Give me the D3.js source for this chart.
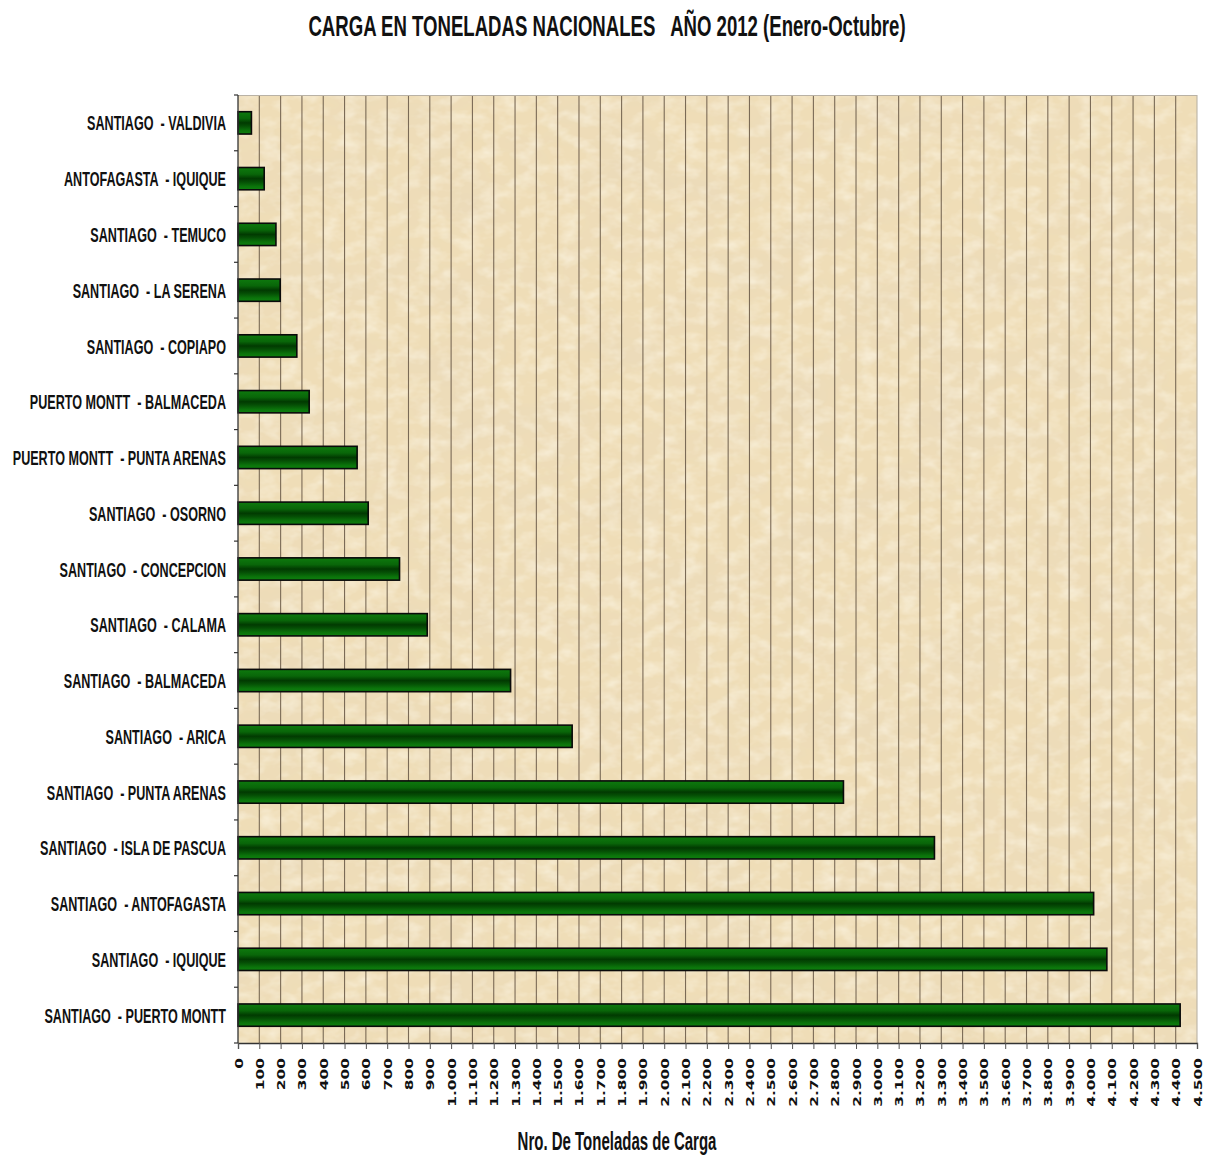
<!DOCTYPE html>
<html><head><meta charset="utf-8">
<script src="https://cdn.jsdelivr.net/npm/d3@7"></script>
<style>
html,body{margin:0;padding:0;background:#fff;}
svg{display:block;}
text{font-family:"Liberation Sans",Arial,sans-serif;font-weight:bold;fill:#111;}
</style></head>
<body>
<svg id="chart" width="1212" height="1161"></svg>
<script>
const categories = [
  "SANTIAGO  - VALDIVIA",
  "ANTOFAGASTA  - IQUIQUE",
  "SANTIAGO  - TEMUCO",
  "SANTIAGO  - LA SERENA",
  "SANTIAGO  - COPIAPO",
  "PUERTO MONTT  - BALMACEDA",
  "PUERTO MONTT  - PUNTA ARENAS",
  "SANTIAGO  - OSORNO",
  "SANTIAGO  - CONCEPCION",
  "SANTIAGO  - CALAMA",
  "SANTIAGO  - BALMACEDA",
  "SANTIAGO  - ARICA",
  "SANTIAGO  - PUNTA ARENAS",
  "SANTIAGO  - ISLA DE PASCUA",
  "SANTIAGO  - ANTOFAGASTA",
  "SANTIAGO  - IQUIQUE",
  "SANTIAGO  - PUERTO MONTT"
];
const toneladas = [63, 123, 178, 198, 276, 334, 559, 611, 758, 888, 1279, 1568, 2841, 3268, 4015, 4077, 4421];
const xTicks = d3.range(0, 4501, 100);
const titleText = "CARGA EN TONELADAS NACIONALES   AÑO 2012 (Enero-Octubre)";
const xAxisTitle = "Nro. De Toneladas de Carga";

const svg = d3.select("#chart");
const L = 238, R = 1197, T = 95, B = 1043;
const SX = 0.6;

const x = d3.scaleLinear().domain([0, 4500]).range([L, R]);
const y = d3.scaleBand().domain(categories).range([T, B]).paddingInner(0.6).paddingOuter(0.3);
const fmt = d3.formatLocale({decimal: ",", thousands: ".", grouping: [3], currency: ["", ""]}).format(",d");

const defs = svg.append("defs");
const f = defs.append("filter").attr("id", "paper").attr("x", 0).attr("y", 0).attr("width", 1).attr("height", 1);
f.append("feTurbulence").attr("type", "fractalNoise").attr("baseFrequency", "0.012 0.02").attr("numOctaves", 4).attr("seed", 7).attr("result", "n");
f.append("feColorMatrix").attr("in", "n").attr("type", "matrix")
  .attr("values", "0 0 0 0 0.82  0 0 0 0 0.70  0 0 0 0 0.50  1.4 0 0 0 -0.55");
const f2 = defs.append("filter").attr("id", "paper2").attr("x", 0).attr("y", 0).attr("width", 1).attr("height", 1);
f2.append("feTurbulence").attr("type", "fractalNoise").attr("baseFrequency", "0.05 0.08").attr("numOctaves", 3).attr("seed", 2).attr("result", "n");
f2.append("feColorMatrix").attr("in", "n").attr("type", "matrix")
  .attr("values", "0 0 0 0 0.98  0 0 0 0 0.93  0 0 0 0 0.80  1.2 0 0 0 -0.5");

const grad = defs.append("linearGradient").attr("id", "barGrad").attr("x1", 0).attr("y1", 0).attr("x2", 0).attr("y2", 1);
[[0, "#0e7a0e"], [0.3, "#096609"], [0.5, "#013a01"], [0.65, "#054f05"], [0.85, "#0b740b"], [1, "#0f7f0f"]]
  .forEach(([o, c]) => grad.append("stop").attr("offset", o).attr("stop-color", c));

// background
svg.append("rect").attr("x", L).attr("y", T).attr("width", R - L).attr("height", B - T).attr("fill", "#EFDDB7");
svg.append("rect").attr("x", L).attr("y", T).attr("width", R - L).attr("height", B - T).attr("fill", "#000").attr("filter", "url(#paper)");
svg.append("rect").attr("x", L).attr("y", T).attr("width", R - L).attr("height", B - T).attr("fill", "#000").attr("filter", "url(#paper2)");

// gridlines
svg.append("g").selectAll("line").data(xTicks.filter(d => d > 0)).join("line")
  .attr("x1", d => x(d)).attr("x2", d => x(d)).attr("y1", T).attr("y2", B)
  .attr("stroke", d => d === 4500 ? "#b9b2a6" : "#7a6a56").attr("stroke-width", 1.1);
svg.append("line").attr("x1", L).attr("x2", R).attr("y1", T + 0.5).attr("y2", T + 0.5).attr("stroke", "#b9b2a6");

// bars
svg.append("g").selectAll("rect").data(categories).join("rect")
  .attr("x", x(0)).attr("y", d => y(d))
  .attr("width", (d, i) => x(toneladas[i]) - x(0)).attr("height", y.bandwidth())
  .attr("fill", "url(#barGrad)").attr("stroke", "#0a0a0a").attr("stroke-width", 1.6);

// x axis
const xAxis = svg.append("g").attr("transform", `translate(0,${B})`)
  .call(d3.axisBottom(x).tickValues(xTicks).tickSize(6).tickFormat(fmt));
xAxis.select(".domain").attr("stroke", "#333").attr("stroke-width", 1.3);
xAxis.selectAll(".tick line").attr("stroke", "#555");
xAxis.selectAll(".tick text")
  .attr("y", 0).attr("dy", 0).attr("x", 0)
  .attr("text-anchor", "end")
  .attr("transform", "translate(4,15) rotate(-90) scale(1.4,1)")
  .style("font-family", "'DejaVu Sans',Verdana,sans-serif")
  .style("font-weight", "bold").style("font-size", "11px").attr("fill", "#111");

// y axis
const yb = categories.map(c => y(c) - (y.step() - y.bandwidth()) / 2).concat([B]);
svg.append("line").attr("x1", L).attr("x2", L).attr("y1", T).attr("y2", B).attr("stroke", "#333").attr("stroke-width", 1.3);
svg.append("g").selectAll("line").data(yb).join("line")
  .attr("x1", L - 4).attr("x2", L).attr("y1", d => d).attr("y2", d => d).attr("stroke", "#333").attr("stroke-width", 1.2);

svg.append("g").selectAll("g").data(categories).join("g")
  .attr("transform", d => `translate(${L - 12},${y(d) + y.bandwidth() / 2}) scale(${SX},1)`)
  .append("text")
  .attr("text-anchor", "end").attr("dy", "0.36em")
  .style("font-size", "21px").style("white-space", "pre")
  .text(d => d);

// title
svg.append("g").attr("transform", `translate(607,36) scale(0.62,1)`)
  .append("text").attr("text-anchor", "middle").style("font-size", "30px").style("white-space", "pre")
  .text(titleText);

// x axis title
svg.append("g").attr("transform", `translate(617,1150) scale(${SX},1)`)
  .append("text").attr("text-anchor", "middle").style("font-size", "25px")
  .text(xAxisTitle);
</script>
</body></html>
